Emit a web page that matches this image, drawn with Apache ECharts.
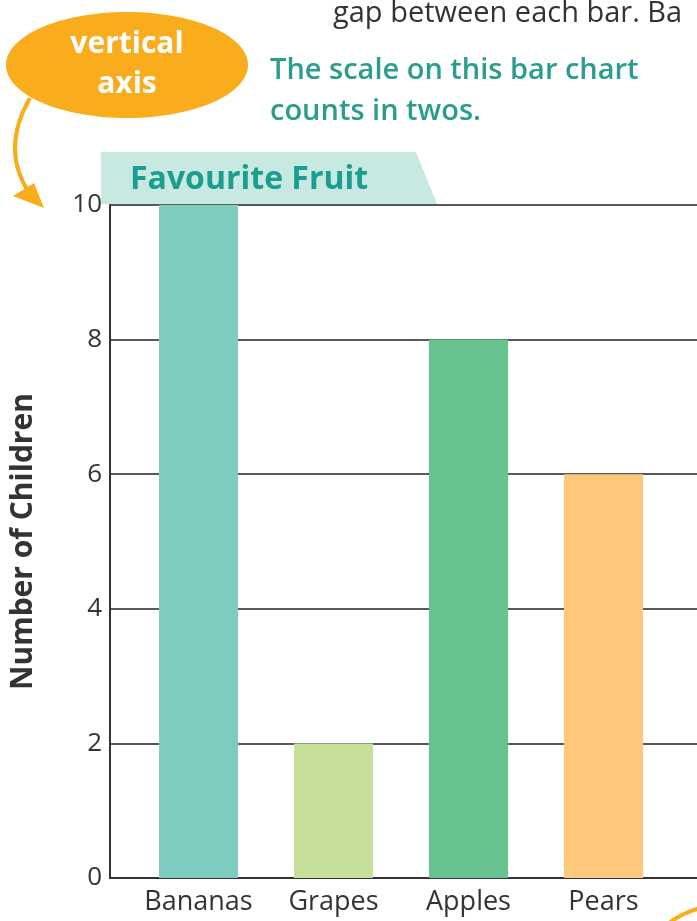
<!DOCTYPE html>
<html>
<head>
<meta charset="utf-8">
<script src="https://cdn.jsdelivr.net/npm/echarts@6/dist/echarts.min.js"></script>
<style>
  html, body { margin: 0; padding: 0; background: #fff; }
  #chart { width: 697px; height: 921px; }
</style>
</head>
<body>
<div id="chart"></div>
<script>
// data
const fruits = ['Bananas', 'Grapes', 'Apples', 'Pears'];
const children = [10, 2, 8, 6];
const barColors = ['#7ccdbf', '#c5df9b', '#66c28e', '#fdc87b'];
const yTicks = [0, 2, 4, 6, 8, 10];

const font = '"Open Sans", "Noto Sans", sans-serif';
const chart = echarts.init(document.getElementById('chart'));

chart.setOption({
    animation: false,
    // grid 0 carries the scale and the long ruled lines, grid 1 the bars
    grid: [
        { left: 104, right: -30, top: 205, bottom: 43 },
        { left: 131, width: 540, top: 205, bottom: 43 }
    ],
    xAxis: [
        {
            gridIndex: 0, type: 'value', min: 0, max: 1,
            axisLine: { show: true, lineStyle: { color: '#333', width: 2 } },
            axisTick: { show: false }, axisLabel: { show: false },
            splitLine: { show: false }
        },
        {
            gridIndex: 1, type: 'category', data: fruits,
            axisLine: { show: false }, axisTick: { show: false },
            axisLabel: { interval: 0, color: '#333', fontSize: 27, fontFamily: font, fontWeight: 500, margin: 11 }
        }
    ],
    yAxis: [
        {
            gridIndex: 0, type: 'value', min: yTicks[0], max: yTicks[yTicks.length - 1], interval: 2,
            name: 'Number of Children', nameLocation: 'middle', nameGap: 72,
            nameTextStyle: { color: '#333', fontSize: 30, fontWeight: 'bold', fontFamily: font },
            axisLine: { show: true, lineStyle: { color: '#333', width: 2 } },
            axisTick: { show: false },
            axisLabel: { color: '#333', fontSize: 26, fontFamily: font, fontWeight: 500, margin: 8 },
            splitLine: { show: true, lineStyle: { color: '#222', width: 1.5 } }
        },
        { gridIndex: 1, type: 'value', min: 0, max: 10, show: false }
    ],
    series: [{
        type: 'bar',
        xAxisIndex: 1, yAxisIndex: 1,
        barWidth: 79,
        data: children.map((v, i) => ({ value: v, itemStyle: { color: barColors[i] } }))
    }],
    graphic: [
        // title banner
        {
            type: 'polygon', z: 1,
            shape: { points: [[101, 152], [416, 152], [437, 204], [101, 204]] },
            style: { fill: '#c8e9e1' }
        },
        {
            type: 'text', x: 130, y: 180, z: 2,
            style: { text: 'Favourite Fruit', fill: '#1a9e8d', font: 'bold 32px ' + font, verticalAlign: 'middle' }
        },
        // orange callout
        {
            type: 'ellipse', shape: { cx: 127, cy: 65, rx: 121, ry: 53 },
            style: { fill: '#f9ad1d' }
        },
        {
            type: 'text', x: 127, y: 44,
            style: { text: 'vertical', fill: '#fff', font: 'bold 30px ' + font, align: 'center', verticalAlign: 'middle' }
        },
        {
            type: 'text', x: 127, y: 84,
            style: { text: 'axis', fill: '#fff', font: 'bold 30px ' + font, align: 'center', verticalAlign: 'middle' }
        },
        {
            type: 'bezierCurve',
            shape: { x1: 30, y1: 98, x2: 30, y2: 194, cpx1: 0, cpy1: 150 },
            style: { stroke: '#f9ad1d', lineWidth: 4, fill: null }
        },
        {
            type: 'polygon',
            shape: { points: [[13, 196], [34, 183], [44, 208]] },
            style: { fill: '#f9ad1d' }
        },
        // small orange curve bottom right
        {
            type: 'bezierCurve',
            shape: { x1: 668, y1: 924, x2: 700, y2: 908, cpx1: 680, cpy1: 914 },
            style: { stroke: '#f9ad1d', lineWidth: 4, fill: null }
        },
        // surrounding worksheet text
        {
            type: 'text', x: 333, y: 14,
            style: { text: 'gap between each bar. Ba', fill: '#333', font: '500 29px ' + font, verticalAlign: 'middle' }
        },
        {
            type: 'text', x: 270, y: 71,
            style: { text: 'The scale on this bar chart', fill: '#2a9d8f', font: '600 29px ' + font, verticalAlign: 'middle' }
        },
        {
            type: 'text', x: 270, y: 112,
            style: { text: 'counts in twos.', fill: '#2a9d8f', font: '600 29px ' + font, verticalAlign: 'middle' }
        }
    ]
});
</script>
</body>
</html>
